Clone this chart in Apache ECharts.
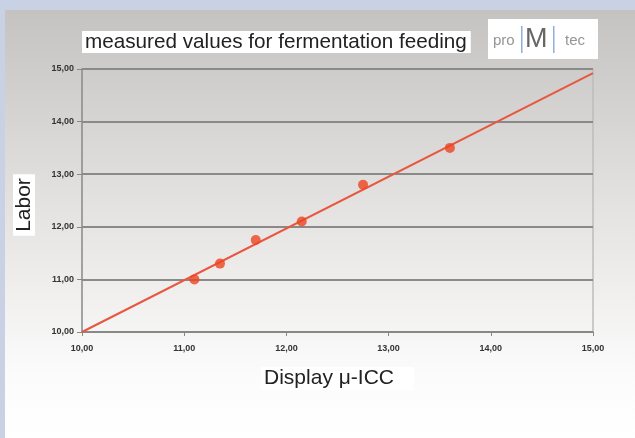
<!DOCTYPE html>
<html>
<head>
<meta charset="utf-8">
<script src="https://cdn.jsdelivr.net/npm/echarts@6/dist/echarts.min.js"></script>
<style>
  html, body { margin: 0; padding: 0; background: #c9d1e4; }
  #chart { width: 635px; height: 438px; }
</style>
</head>
<body>
<div id="chart"></div>
<script>
// measured points: display u-ICC vs labor value
var displayVals = [11.1, 11.35, 11.7, 12.15, 12.75, 13.6];
var laborVals = [11.0, 11.3, 11.75, 12.1, 12.8, 13.5];
// fitted line end points
var fitX = [10, 15];
var fitY = [10, 14.92];

var points = displayVals.map(function (x, i) { return [x, laborVals[i]]; });
var fitLine = fitX.map(function (x, i) { return [x, fitY[i]]; });

function fmt(v) {
    return v.toFixed(2).replace('.', ',');
}

var FONT = 'Liberation Sans, Arial, sans-serif';
var chart = echarts.init(document.getElementById('chart'));

var option = {
    animation: false,
    backgroundColor: '#c9d1e4',
    textStyle: { fontFamily: FONT },
    graphic: [
        {
            type: 'rect', z: -100,
            shape: { x: 5, y: 10, width: 630, height: 428 },
            style: {
                fill: new echarts.graphic.LinearGradient(0, 0, 0, 1, [
                    { offset: 0, color: '#c5c3c1' },
                    { offset: 0.45, color: '#e4e2e0' },
                    { offset: 0.85, color: '#fbfbfb' },
                    { offset: 1, color: '#ffffff' }
                ])
            }
        },
        // title box
        {
            type: 'text', left: 82, top: 31,
            style: {
                text: 'measured values for fermentation feeding',
                fontSize: 20.7, fill: '#222', fontFamily: FONT,
                backgroundColor: '#fff', padding: [1, 4, 0, 3]
            }
        },
        // logo
        {
            type: 'group', left: 488, top: 19,
            children: [
                { type: 'rect', shape: { x: 0, y: 0, width: 110, height: 40 }, style: { fill: '#fff' } },
                { type: 'text', x: 5, y: 14, style: { text: 'pro', fontSize: 15, fill: '#959595', fontFamily: FONT } },
                { type: 'rect', shape: { x: 33, y: 7, width: 1.5, height: 27 }, style: { fill: '#8fb0d8' } },
                { type: 'text', x: 37, y: 7, style: { text: 'M', fontSize: 27, fill: '#666', fontFamily: FONT } },
                { type: 'rect', shape: { x: 65, y: 7, width: 1.5, height: 27 }, style: { fill: '#8fb0d8' } },
                { type: 'text', x: 77, y: 14, style: { text: 'tec', fontSize: 15, fill: '#959595', fontFamily: FONT } }
            ]
        },
        // y axis title
        {
            type: 'text', x: 24, y: 205, rotation: Math.PI / 2,
            style: {
                text: 'Labor', fontSize: 21, fill: '#222',
                align: 'center', verticalAlign: 'middle', fontFamily: FONT,
                backgroundColor: '#fff', padding: [1, 4, 0, 4]
            }
        }
    ],
    grid: { left: 82, right: 42, top: 69, bottom: 106 },
    xAxis: {
        type: 'value', min: 10, max: 15, interval: 1,
        name: 'Display μ-ICC',
        nameLocation: 'middle',
        nameGap: 35,
        nameTextStyle: {
            fontSize: 21, color: '#222', backgroundColor: '#fff',
            padding: [1, 20, 1, 3], verticalAlign: 'top'
        },
        axisLine: { lineStyle: { color: '#888', width: 1.5 } },
        axisTick: { show: true, length: 4, lineStyle: { color: '#888' } },
        axisLabel: { formatter: fmt, fontSize: 9, fontWeight: 'bold', color: '#333', margin: 12 },
        splitLine: { show: false }
    },
    yAxis: {
        type: 'value', min: 10, max: 15, interval: 1,
        axisLine: { show: true, lineStyle: { color: '#888', width: 1.5 } },
        axisTick: { show: true, length: 5, lineStyle: { color: '#888' } },
        axisLabel: { formatter: fmt, fontSize: 9, fontWeight: 'bold', color: '#333', margin: 8 },
        splitLine: { show: true, lineStyle: { color: '#8a8a8a', width: 2 } }
    },
    series: [
        {
            type: 'line',
            data: fitLine,
            symbol: 'none',
            lineStyle: { color: '#e8573f', width: 2 },
            z: 3
        },
        {
            type: 'scatter',
            data: points,
            symbolSize: 10,
            itemStyle: { color: '#ee4420' },
            z: 4
        }
    ]
};

chart.setOption(option);

// right border of plot area
var pR = chart.convertToPixel({ gridIndex: 0 }, [15, 15]);
var pB = chart.convertToPixel({ gridIndex: 0 }, [15, 10]);
chart.setOption({
    graphic: option.graphic.concat([{
        type: 'line', z: -1,
        shape: { x1: pR[0], y1: pR[1], x2: pB[0], y2: pB[1] },
        style: { stroke: '#bdbdbd', lineWidth: 1.5 }
    }])
});
</script>
</body>
</html>
